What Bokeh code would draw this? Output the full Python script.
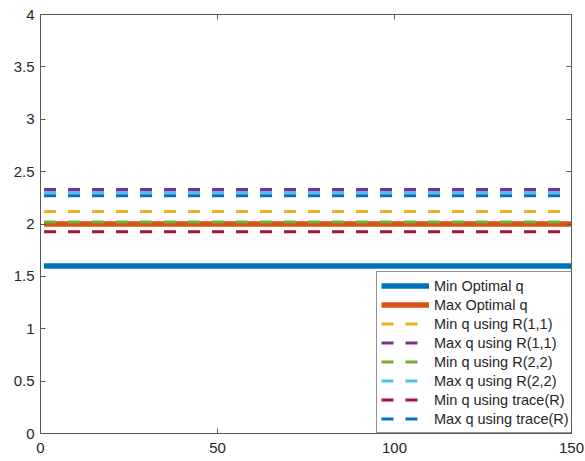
from bokeh.plotting import figure
from bokeh.models import LinearAxis, FixedTicker, Legend, LegendItem, Range1d
from bokeh.embed import file_html
from bokeh.resources import INLINE

# Iterations along the x axis
x = list(range(1, 151))

# Bound levels for each method
series_names = [
    "Min Optimal q", "Max Optimal q",
    "Min q using R(1,1)", "Max q using R(1,1)",
    "Min q using R(2,2)", "Max q using R(2,2)",
    "Min q using trace(R)", "Max q using trace(R)",
]
series_levels = [1.60, 2.00, 2.12, 2.33, 2.02, 2.30, 1.925, 2.27]
series_colors = ["#0072BD", "#D95319", "#EDB120", "#7E2F8E",
                 "#77AC30", "#4DBEEE", "#A2142F", "#0072BD"]
series_solid = [True, True, False, False, False, False, False, False]

x_ticks = [0, 50, 100, 150]
y_ticks = [0, 0.5, 1, 1.5, 2, 2.5, 3, 3.5, 4]
y_tick_labels = ["0", "0.5", "1", "1.5", "2", "2.5", "3", "3.5", "4"]

FONT = "Liberation Sans"
AX = "#5a5a5a"
TXT = "#262626"

p = figure(width=585, height=461, output_backend="svg", toolbar_location=None,
           x_range=Range1d(0, 150), y_range=Range1d(0, 4),
           min_border_left=40, min_border_right=14, min_border_top=14,
           min_border_bottom=28)
p.grid.visible = False
p.outline_line_color = AX
p.outline_line_width = 1
p.background_fill_color = "white"
p.border_fill_color = "white"


def style_axis(ax, ticks, labels=True):
    ax.ticker = FixedTicker(ticks=ticks)
    ax.axis_line_color = AX
    ax.major_tick_line_color = AX
    ax.minor_tick_line_color = None
    ax.major_tick_in = 5
    ax.major_tick_out = 0
    ax.major_label_text_font = FONT
    ax.major_label_text_color = TXT
    ax.major_label_text_font_size = "15px"
    if not labels:
        # tick marks only on the mirrored box sides
        ax.major_label_overrides = {t: "" for t in ticks}
        ax.major_label_standoff = 0


style_axis(p.xaxis[0], x_ticks)
style_axis(p.yaxis[0], y_ticks)
p.yaxis.major_label_overrides = {t: s for t, s in zip(y_ticks, y_tick_labels)}
p.xaxis.major_label_standoff = 9
p.yaxis.major_label_standoff = 6

top = LinearAxis()
right = LinearAxis()
style_axis(top, x_ticks, labels=False)
style_axis(right, y_ticks, labels=False)
p.add_layout(top, "above")
p.add_layout(right, "right")

items = []
for name, lvl, col, solid in zip(series_names, series_levels, series_colors, series_solid):
    ys = [lvl] * len(x)
    if solid:
        r = p.line(x, ys, line_color=col, line_width=5.5)
    else:
        r = p.line(x, ys, line_color=col, line_width=3, line_dash="12 12")
    items.append(LegendItem(label=name, renderers=[r]))

legend = Legend(items=items, location=(336, 0), margin=0,
                padding=4, spacing=0, label_height=19, glyph_height=19,
                glyph_width=48, label_standoff=5,
                label_text_font=FONT, label_text_font_size="14.5px",
                label_text_color=TXT,
                border_line_color=TXT, border_line_width=1,
                background_fill_color="white", background_fill_alpha=1)
p.add_layout(legend, "center")

open("out.html", "w").write(file_html(p, INLINE))
